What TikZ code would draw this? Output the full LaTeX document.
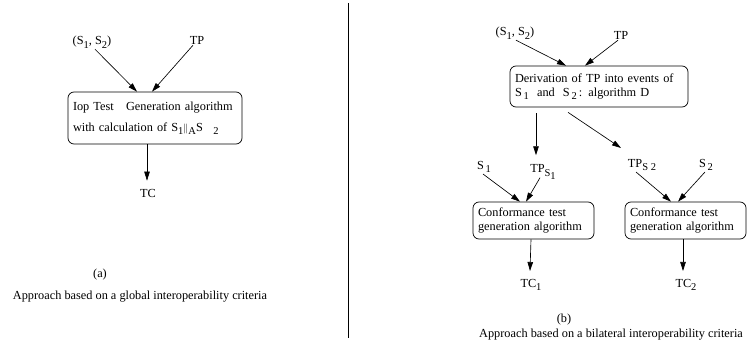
\documentclass[tikz,border=0pt]{standalone}
\usepackage{fontspec}
\setmainfont{Liberation Serif}
\usetikzlibrary{arrows.meta, positioning}
\newcommand{\lowsub}[1]{\raisebox{-3.5pt}{\fontsize{10.5}{11}\selectfont #1}}

\begin{document}
\begin{tikzpicture}[x=1pt, y=-1pt, font=\fontsize{12.3}{14}\selectfont,
  every node/.style={inner sep=1pt},
  algobox/.style={draw, rounded corners=6pt, line width=0.7pt, inner xsep=5pt, align=left},
  flow/.style={-{Triangle[length=9pt,width=5.5pt]}, line width=0.65pt}]
  \useasboundingbox (0,0) rectangle (747,345);

  % (a) global interoperability
  \node (pairA) at (92,42) {(S\lowsub{1}, S\lowsub{2})};
  \node (tpA) at (197,40) {TP};
  \node[algobox, text width=164pt, minimum height=52pt] (iop) at (155,118)
    {\makebox[164pt][s]{Iop Test\quad Generation algorithm}\\[7pt]
     with calculation of S\lowsub{1}{\fontsize{10}{10}\selectfont$\|$}\lowsub{A}S\lowsub{\quad 2}};
  \node (tcA) at (148,193) {TC};
  \node (capA) at (100,275) {(a)};
  \node (appA) at (140,297) {Approach based on a global interoperability criteria};
  \draw[flow] ([xshift=3pt]pairA.south) -- ([xshift=-18pt]iop.north);
  \draw[flow] ([xshift=-4pt]tpA.south) -- ([xshift=-3pt]iop.north);
  \draw[flow] ([xshift=-8pt]iop.south) -- ([xshift=-1pt,yshift=7pt]tcA.north);

  % divider
  \coordinate (topdiv) at (348,3);
  \coordinate (botdiv) at (348,338);
  \draw[line width=0.7pt] (topdiv) -- (botdiv);

  % (b) bilateral interoperability
  \node (pairB) at (515,33) {(S\lowsub{1}, S\lowsub{2})};
  \node (tpB) at (621,35) {TP};
  \node[algobox, text width=168pt, minimum height=41pt] (deriv) at (599,86.5)
    {Derivation of TP into events of\\
     S\lowsub{\,1}\ \ and\ \ S\lowsub{\,2}\,: algorithm D};
  \node (sone) at (484,167) {S\lowsub{\,1}};
  \node (tpsone) at (543,172) {TP\lowsub{S\lowsub{1}}};
  \node (tpstwo) at (642,165) {TP\lowsub{S 2}};
  \node (stwo) at (706,165) {S\lowsub{\,2}};
  \node[algobox, text width=111pt, minimum height=37pt] (confL) at (533.5,220.5)
    {Conformance test\\generation algorithm};
  \node[algobox, text width=111pt, minimum height=37pt] (confR) at (685.5,220.5)
    {Conformance test\\generation algorithm};
  \node (tcone) at (531,285) {TC\lowsub{1}};
  \node (tctwo) at (686,285) {TC\lowsub{2}};
  \node (capB) at (564,320) {(b)};
  \node[anchor=west] (appB) at (478,335) {Approach based on a bilateral interoperability criteria};

  \draw[flow] ([xshift=1pt]pairB.south) -- ([xshift=-33pt]deriv.north);
  \draw[flow] ([xshift=-3pt]tpB.south) -- ([xshift=-14pt]deriv.north);
  \draw[flow] ([xshift=-63pt,yshift=-6pt]deriv.south) -- ([xshift=-7pt,yshift=8pt]tpsone.north);
  \draw[flow] ([xshift=-31pt,yshift=-5pt]deriv.south) -- ([xshift=-21pt,yshift=10pt]tpstwo.north);
  \draw[flow] ([xshift=-1pt]sone.south) -- ([xshift=-13.5pt]confL.north);
  \draw[flow] ([xshift=-3pt,yshift=3pt]tpsone.south) -- ([xshift=-7.5pt]confL.north);
  \draw[flow] ([xshift=-6pt,yshift=-7pt]tpstwo.center) -- ([xshift=-14.5pt]confR.north);
  \draw[flow] ([xshift=-1pt,yshift=-7pt]stwo.center) -- ([xshift=-7.5pt]confR.north);
  \draw[flow] ([xshift=-2.5pt]confL.south) -- ([xshift=-1pt,yshift=7pt]tcone.north);
  \draw[flow] ([xshift=-2.5pt]confR.south) -- ([xshift=-3pt,yshift=7pt]tctwo.north);
\end{tikzpicture}
\end{document}
